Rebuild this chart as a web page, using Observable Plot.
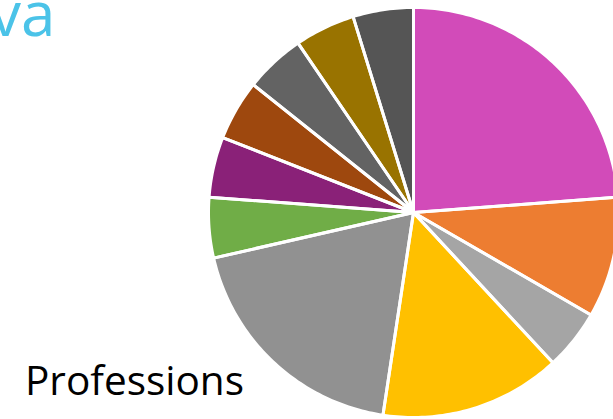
<!DOCTYPE html>
<html>
<head>
<meta charset="utf-8">
<script src="https://cdn.jsdelivr.net/npm/d3@7"></script>
<script src="https://cdn.jsdelivr.net/npm/@observablehq/plot@0.6"></script>
<style>
  html, body { margin: 0; padding: 0; background: #fff; overflow: hidden; }
  #wrap { position: relative; width: 613px; height: 419px; overflow: hidden; }
  #title { position: absolute; left: -10px; top: -19px; font-family: "Open Sans", sans-serif; font-size: 62px; color: #4BC3E8; white-space: nowrap; line-height: 1; }
  #caption { position: absolute; left: 25px; top: 360px; font-family: "Open Sans", sans-serif; font-size: 40.5px; color: #000; white-space: nowrap; line-height: 1; }
  svg { display: block; }
</style>
</head>
<body>
<div id="wrap">
  <div id="chart"></div>
  <div id="title">va</div>
  <div id="caption">Professions</div>
</div>
<script>
// Slice values (counts), clockwise from 12 o'clock
const categories = ["A", "B", "C", "D", "E", "F", "G", "H", "I", "J", "K"];
const values = [5, 2, 1, 3, 4, 1, 1, 1, 1, 1, 1];
const colors = ["#D24BB9", "#ED7D31", "#A5A5A5", "#FFC000", "#919191", "#70AD47", "#8A2178", "#9E480E", "#636363", "#997300", "#555555"];

const R = 205;
const pie = d3.pie().sort(null).value(d => d.value);
const arcs = pie(categories.map((c, i) => ({name: c, value: values[i], color: colors[i]})));

// Build polygon outlines for each slice from the pie angles
const pts = [];
for (const a of arcs) {
  const n = Math.max(2, Math.ceil((a.endAngle - a.startAngle) * 180 / Math.PI));
  pts.push({name: a.data.name, color: a.data.color, x: 0, y: 0});
  for (let k = 0; k <= n; k++) {
    const t = a.startAngle + (a.endAngle - a.startAngle) * k / n;
    pts.push({name: a.data.name, color: a.data.color, x: R * Math.sin(t), y: R * Math.cos(t)});
  }
}

const chart = Plot.plot({
  width: 613,
  height: 419,
  margin: 0,
  x: {domain: [-413, 200], axis: null},
  y: {domain: [-207, 212], axis: null},
  color: {type: "identity"},
  marks: [
    Plot.line(pts, {x: "x", y: "y", z: "name", fill: "color", stroke: "none", curve: "linear-closed"}),
    Plot.line(pts, {x: "x", y: "y", z: "name", stroke: "white", strokeWidth: 3, strokeLinejoin: "round", curve: "linear-closed"})
  ]
});
document.getElementById("chart").appendChild(chart);
</script>
</body>
</html>
